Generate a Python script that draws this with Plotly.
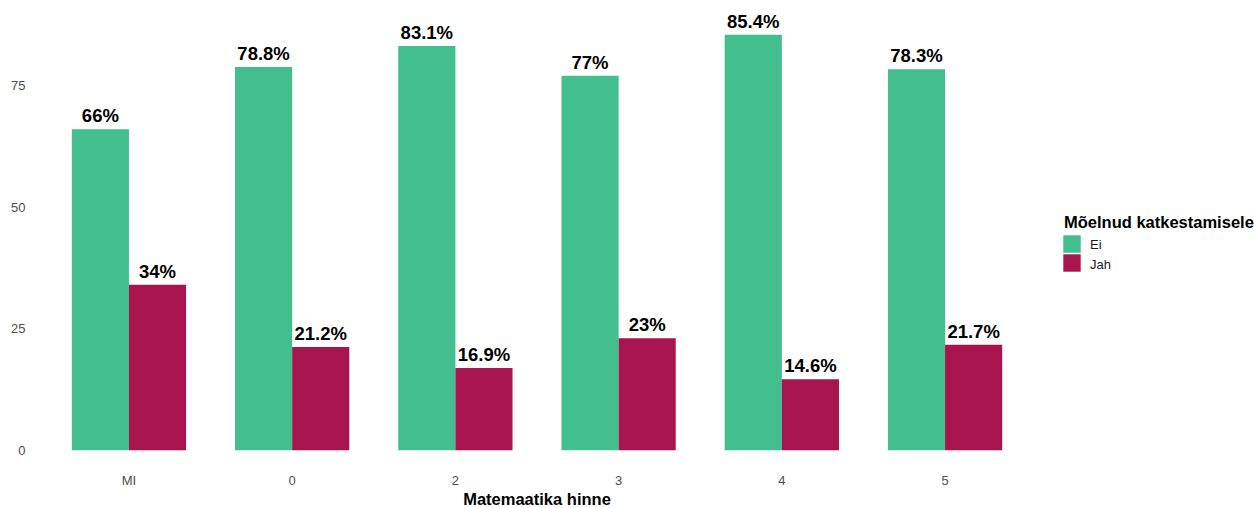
import plotly.graph_objects as go

grades = ["MI", "0", "2", "3", "4", "5"]
ei_pct = [66.0, 78.8, 83.1, 77.0, 85.4, 78.3]
jah_pct = [34.0, 21.2, 16.9, 23.0, 14.6, 21.7]
y_ticks = [0, 25, 50, 75]
series = [("Ei", ei_pct, "#42BE8F"), ("Jah", jah_pct, "#A8144E")]

FONT = "Liberation Sans, Arial, sans-serif"
W, H = 1254, 508
ML, MR, MT, MB = 31, 211, 14, 37


def pct_label(v):
    return f"{v:g}%"


fig = go.Figure()
for name, vals, col in series:
    fig.add_trace(go.Bar(
        name=name, x=grades, y=vals, marker=dict(color=col, line=dict(width=0)),
        text=[pct_label(v) for v in vals], textposition="outside",
        textfont=dict(family=FONT, size=18.5, color="black", weight="bold"),
        cliponaxis=False, showlegend=False,
    ))

ymax = max(ei_pct + jah_pct)
pad = ymax * 0.05

# Legend drawn by hand so the keys get ggplot-sized square swatches
pw = W - ML - MR
ph = H - MT - MB


def px_to_paper_x(px):
    return (px - ML) / pw


def px_to_paper_y(py):
    return (H - MB - py) / ph


shapes = []
annotations = [dict(
    text="<b>Mõelnud katkestamisele</b>", xref="paper", yref="paper",
    x=px_to_paper_x(1062), y=px_to_paper_y(222), xanchor="left", yanchor="middle",
    showarrow=False, font=dict(family=FONT, size=16.5, color="black"),
)]
key_top = 235
key_size = 19
for i, (name, vals, col) in enumerate(series):
    top = key_top + i * key_size
    shapes.append(dict(
        type="rect", xref="paper", yref="paper",
        x0=px_to_paper_x(1063), x1=px_to_paper_x(1081),
        y0=px_to_paper_y(top + 18), y1=px_to_paper_y(top),
        fillcolor=col, line=dict(width=0.6, color="white"),
    ))
    annotations.append(dict(
        text=name, xref="paper", yref="paper",
        x=px_to_paper_x(1088), y=px_to_paper_y(top + 10),
        xanchor="left", yanchor="middle", showarrow=False,
        font=dict(family=FONT, size=13, color="#1A1A1A"),
    ))

fig.update_layout(
    width=W, height=H,
    margin=dict(l=ML, r=MR, t=MT, b=MB, autoexpand=False),
    paper_bgcolor="white", plot_bgcolor="white",
    barmode="group", bargap=0.3, bargroupgap=0,
    font=dict(family=FONT, size=13, color="#4D4D4D"),
    showlegend=False,
    shapes=shapes, annotations=annotations,
    xaxis=dict(
        type="category", range=[-0.6, len(grades) - 0.4],
        showgrid=False, zeroline=False, showline=False,
        ticks="", ticklen=0,
        tickfont=dict(size=13, color="#4D4D4D"),
        title=dict(text="Matemaatika hinne", standoff=9,
                   font=dict(size=16.5, color="black", weight="bold")),
    ),
    yaxis=dict(
        range=[-pad, ymax + pad], tickvals=y_ticks,
        showgrid=False, zeroline=False, showline=False,
        ticks="outside", ticklen=2, tickcolor="white",
        tickfont=dict(size=13, color="#4D4D4D"),
    ),
)

fig.write_html("out.html")
